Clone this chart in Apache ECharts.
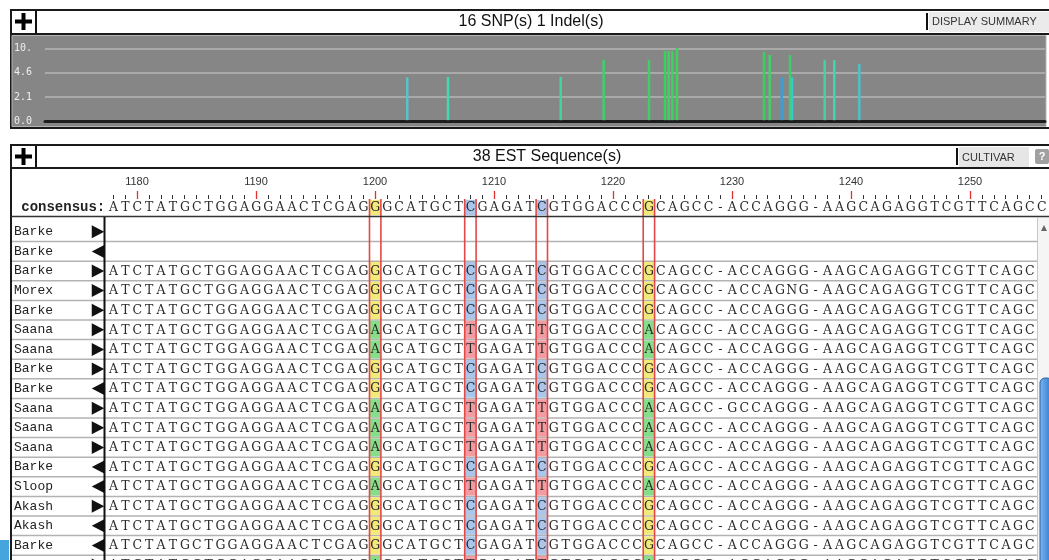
<!DOCTYPE html>
<html><head><meta charset="utf-8">
<script src="https://cdn.jsdelivr.net/npm/echarts@6/dist/echarts.min.js"></script>
<style>html,body{margin:0;padding:0;background:#fff}#c{width:1049px;height:560px}</style>
</head><body><div id="c"></div>
<script>
// ---------------- data ----------------
const snpTitle = '16 SNP(s) 1 Indel(s)';
const estTitle = '38 EST Sequence(s)';
const yTickLabels = ['0.0', '2.1', '4.6', '10.'];
// SNP overview: x position (overview axis units) and bar height (axis tick units)
const snpX = [362.3, 403, 515.7, 558.7, 604, 620, 623.7, 627.3, 632, 719, 724.7, 736.7, 745, 747, 779.7, 789.3, 814.3];
const snpHeights = [1.81, 1.83, 1.83, 2.53, 2.53, 2.89, 2.89, 2.89, 3.02, 2.86, 2.73, 1.81, 2.73, 1.81, 2.52, 2.52, 2.36];
const barColors = ['#5cc3c9', '#3fd9b5', '#3fd79c', '#3fd06a', '#3fcf66', '#37d35a', '#3cd45e', '#3cd35e', '#3cd45a',
  '#3ccf60', '#45cf6c', '#3c9fd6', '#3fcd6a', '#3dc6d0', '#47cfa8', '#3fd6b0', '#4cc2c8'];

const startPos = 1178;
const consensus = 'ATCTATGCTGGAGGAACTCGAGGGCATGCTCGAGATCGTGGACCCGCAGCC-ACCAGGG-AAGCAGAGGTCGTTCAGCC';
const snpColumns = [1200, 1208, 1214, 1223];
const names = ['Barke', 'Barke', 'Barke', 'Morex', 'Barke', 'Saana', 'Saana', 'Barke', 'Barke', 'Saana',
  'Saana', 'Saana', 'Barke', 'Sloop', 'Akash', 'Akash', 'Barke', ''];
const strands = ['+', '-', '+', '+', '+', '+', '+', '+', '-', '+', '+', '+', '-', '-', '+', '-', '-', '+'];
const sequences = [
  '',
  '',
  'ATCTATGCTGGAGGAACTCGAGGGCATGCTCGAGATCGTGGACCCGCAGCC-ACCAGGG-AAGCAGAGGTCGTTCAGC',
  'ATCTATGCTGGAGGAACTCGAGGGCATGCTCGAGATCGTGGACCCGCAGCC-ACCAGNG-AAGCAGAGGTCGTTCAGC',
  'ATCTATGCTGGAGGAACTCGAGGGCATGCTCGAGATCGTGGACCCGCAGCC-ACCAGGG-AAGCAGAGGTCGTTCAGC',
  'ATCTATGCTGGAGGAACTCGAGAGCATGCTTGAGATTGTGGACCCACAGCC-ACCAGGG-AAGCAGAGGTCGTTCAGC',
  'ATCTATGCTGGAGGAACTCGAGAGCATGCTTGAGATTGTGGACCCACAGCC-ACCAGGG-AAGCAGAGGTCGTTCAGC',
  'ATCTATGCTGGAGGAACTCGAGGGCATGCTCGAGATCGTGGACCCGCAGCC-ACCAGGG-AAGCAGAGGTCGTTCAGC',
  'ATCTATGCTGGAGGAACTCGAGGGCATGCTCGAGATCGTGGACCCGCAGCC-ACCAGGG-AAGCAGAGGTCGTTCAGC',
  'ATCTATGCTGGAGGAACTCGAGAGCATGCTTGAGATTGTGGACCCACAGCC-GCCAGGG-AAGCAGAGGTCGTTCAGC',
  'ATCTATGCTGGAGGAACTCGAGAGCATGCTTGAGATTGTGGACCCACAGCC-ACCAGGG-AAGCAGAGGTCGTTCAGC',
  'ATCTATGCTGGAGGAACTCGAGAGCATGCTTGAGATTGTGGACCCACAGCC-ACCAGGG-AAGCAGAGGTCGTTCAGC',
  'ATCTATGCTGGAGGAACTCGAGGGCATGCTCGAGATCGTGGACCCGCAGCC-ACCAGGG-AAGCAGAGGTCGTTCAGC',
  'ATCTATGCTGGAGGAACTCGAGAGCATGCTTGAGATTGTGGACCCACAGCC-ACCAGGG-AAGCAGAGGTCGTTCAGC',
  'ATCTATGCTGGAGGAACTCGAGGGCATGCTCGAGATCGTGGACCCGCAGCC-ACCAGGG-AAGCAGAGGTCGTTCAGC',
  'ATCTATGCTGGAGGAACTCGAGGGCATGCTCGAGATCGTGGACCCGCAGCC-ACCAGGG-AAGCAGAGGTCGTTCAGC',
  'ATCTATGCTGGAGGAACTCGAGGGCATGCTCGAGATCGTGGACCCGCAGCC-ACCAGGG-AAGCAGAGGTCGTTCAGC',
  'ATCTATGCTGGAGGAACTCGAGAGCATGCTTGAGATTGTGGACCCACAGCC-ACCAGGG-AAGCAGAGGTCGTTCAGC'
];

// ---------------- styles ----------------
const baseFill = { G: '#f2e97a', A: '#86de8a', C: '#aac6ea', T: '#f29ca2' };
const baseFont = '12.5px "DejaVu Serif"';
const monoFont = '"Liberation Mono"';
const sansFont = '"Liberation Sans"';

const positions = consensus.split('').map((_, i) => String(startPos + i));
const rowCats = names.map((_, i) => String(i));
const isDecade = (idx) => (startPos + idx) % 10 === 0;

function drawBases(seq, r, api, children, cy, h) {
  for (let i = 0; i < seq.length; i++) {
    const p = api.coord([i, r]);
    const ch = seq[i];
    if (snpColumns.indexOf(startPos + i) >= 0 && baseFill[ch]) {
      children.push({ type: 'rect', shape: { x: p[0] - 5.3, y: cy - h / 2 + 0.8, width: 11, height: h - 1.6 },
        style: { fill: baseFill[ch] } });
    }
    children.push({ type: 'text', style: { text: ch, x: p[0] + 0.3, y: cy + 0.5, font: baseFont, fill: '#2a2a2a',
      align: 'center', verticalAlign: 'middle' } });
  }
}

const chart = echarts.init(document.getElementById('c'), null, { renderer: 'canvas' });

const graphic = [
  // panel 1
  { type: 'rect', z: -10, shape: { x: 11, y: 10, width: 1045, height: 118 }, style: { fill: '#fff', stroke: '#1a1a1a', lineWidth: 2 } },
  { type: 'rect', z: -9, shape: { x: 12, y: 35.5, width: 1034, height: 91 }, style: { fill: '#868686', stroke: '#b4b4b4', lineWidth: 1 } },
  { type: 'line', z: -8, shape: { x1: 11, y1: 34, x2: 1049, y2: 34 }, style: { stroke: '#1a1a1a', lineWidth: 2 } },
  { type: 'rect', shape: { x: 15, y: 19.5, width: 17, height: 4 }, style: { fill: '#000' } },
  { type: 'rect', shape: { x: 21.5, y: 13, width: 4, height: 17 }, style: { fill: '#000' } },
  { type: 'line', shape: { x1: 36, y1: 11, x2: 36, y2: 33 }, style: { stroke: '#111', lineWidth: 2 } },
  { type: 'text', style: { x: 531, y: 21.5, text: snpTitle, font: '16px ' + sansFont, fill: '#111', align: 'center', verticalAlign: 'middle' } },
  { type: 'rect', shape: { x: 926, y: 13, width: 2, height: 17 }, style: { fill: '#111' } },
  { type: 'rect', shape: { x: 929, y: 12, width: 121, height: 20 }, style: { fill: '#ebebeb' } },
  { type: 'text', style: { x: 932, y: 22, text: 'DISPLAY SUMMARY', font: '11px ' + sansFont, fill: '#333', align: 'left', verticalAlign: 'middle' } },
  // panel 2
  { type: 'rect', z: -10, shape: { x: 11, y: 145, width: 1045, height: 430 }, style: { fill: '#fff', stroke: '#1a1a1a', lineWidth: 2 } },
  { type: 'line', z: -8, shape: { x1: 11, y1: 168, x2: 1049, y2: 168 }, style: { stroke: '#1a1a1a', lineWidth: 2 } },
  { type: 'rect', shape: { x: 15, y: 154.5, width: 17, height: 4 }, style: { fill: '#000' } },
  { type: 'rect', shape: { x: 21.5, y: 148, width: 4, height: 17 }, style: { fill: '#000' } },
  { type: 'line', shape: { x1: 36, y1: 146, x2: 36, y2: 167 }, style: { stroke: '#111', lineWidth: 2 } },
  { type: 'text', style: { x: 547, y: 157, text: estTitle, font: '16px ' + sansFont, fill: '#111', align: 'center', verticalAlign: 'middle' } },
  { type: 'rect', shape: { x: 956, y: 148, width: 2, height: 17 }, style: { fill: '#111' } },
  { type: 'rect', shape: { x: 959, y: 147, width: 70, height: 20 }, style: { fill: '#e6e6e6' } },
  { type: 'text', style: { x: 962, y: 157.5, text: 'CULTIVAR', font: '11px ' + sansFont, fill: '#333', align: 'left', verticalAlign: 'middle' } },
  { type: 'rect', shape: { x: 1035, y: 149, width: 14, height: 15, r: 2 }, style: { fill: '#a0a0a0' } },
  { type: 'text', style: { x: 1042, y: 157, text: '?', font: 'bold 11px ' + sansFont, fill: '#fff', align: 'center', verticalAlign: 'middle' } },
  { type: 'line', z: 40, shape: { x1: 11, y1: 216.5, x2: 1049, y2: 216.5 }, style: { stroke: '#333', lineWidth: 1.5 } },
  { type: 'line', z: 40, shape: { x1: 104.5, y1: 217, x2: 104.5, y2: 560 }, style: { stroke: '#111', lineWidth: 2 } },
  // scrollbar
  { type: 'rect', z: 50, shape: { x: 1037.5, y: 217.5, width: 13, height: 345 }, style: { fill: '#f5f5f5', stroke: '#c8c8c8', lineWidth: 1 } },
  { type: 'polygon', z: 51, shape: { points: [[1041, 231], [1047, 231], [1044, 225]] }, style: { fill: '#666' } },
  { type: 'rect', z: 51, shape: { x: 1040, y: 378, width: 12, height: 190, r: 5 },
    style: { fill: new echarts.graphic.LinearGradient(0, 0, 1, 0, [{ offset: 0, color: '#79b8f0' }, { offset: 1, color: '#2e74c8' }]), stroke: '#2a5fa8', lineWidth: 1 } },
  // slide decoration
  { type: 'rect', z: 60, shape: { x: 0, y: 540, width: 9, height: 20 }, style: { fill: '#45a5dc' } }
];

const option = {
  animation: false,
  backgroundColor: '#ffffff',
  graphic: graphic,
  grid: [
    { left: 45, right: 4, top: 48.3, height: 73.4, containLabel: false, outerBoundsMode: 'none' },
    { left: 107.25, width: 940.1, top: 199, height: 17, containLabel: false, outerBoundsMode: 'none' },
    { left: 107.25, width: 940.1, top: 222, height: 352.8, containLabel: false, outerBoundsMode: 'none' }
  ],
  xAxis: [
    { gridIndex: 0, type: 'value', min: 0, max: 1000,
      axisLine: { show: true, onZero: false, lineStyle: { color: '#1e1e1e', width: 3 } },
      axisTick: { show: false }, axisLabel: { show: false }, splitLine: { show: false } },
    { gridIndex: 1, type: 'category', data: positions, position: 'top',
      axisLine: { show: false },
      axisTick: { show: true, alignWithLabel: true, interval: 0, length: 4, lineStyle: { color: '#333', width: 1 } },
      axisLabel: { show: false }, splitLine: { show: false } },
    { gridIndex: 1, type: 'category', data: positions, position: 'top',
      axisLine: { show: false },
      axisTick: { show: true, alignWithLabel: true, interval: (idx) => isDecade(idx), length: 8, lineStyle: { color: '#e03030', width: 1.3 } },
      axisLabel: { show: true, interval: (idx) => isDecade(idx), margin: 12, fontSize: 11, color: '#333', fontFamily: sansFont },
      splitLine: { show: false } },
    { gridIndex: 2, type: 'category', data: positions, show: false }
  ],
  yAxis: [
    { gridIndex: 0, type: 'value', min: 0, max: 3, interval: 1,
      axisLine: { show: false }, axisTick: { show: false },
      axisLabel: { formatter: (v) => (yTickLabels[v] !== undefined ? yTickLabels[v] : ''), align: 'left', margin: 31,
        color: '#eeeeee', fontSize: 10, fontFamily: '"DejaVu Sans Mono"' },
      splitLine: { show: true, lineStyle: { color: '#a9a9a9', width: 2 } } },
    { gridIndex: 1, type: 'category', data: ['consensus:'],
      axisLine: { show: false }, axisTick: { show: false },
      axisLabel: { align: 'right', margin: 2, fontSize: 14, fontWeight: 'bold', fontFamily: monoFont, color: '#222' },
      splitLine: { show: false } },
    { gridIndex: 2, type: 'category', data: rowCats, inverse: true,
      axisLine: { show: false }, axisTick: { show: false },
      axisLabel: { formatter: (v, idx) => names[idx], align: 'left', margin: 93.25, fontSize: 13, fontFamily: monoFont, color: '#222' },
      splitLine: { show: false } }
  ],
  series: [
    { type: 'custom', name: 'SNP density', xAxisIndex: 0, yAxisIndex: 0, z: 5,
      data: snpX.map((x, i) => [x, snpHeights[i]]),
      renderItem: (params, api) => {
        const p0 = api.coord([api.value(0), 0]);
        const p1 = api.coord([api.value(0), api.value(1)]);
        return { type: 'rect', shape: { x: p0[0] - 1.25, y: p1[1], width: 2.5, height: p0[1] - p1[1] - 1.5 },
          style: { fill: barColors[params.dataIndex] } };
      } },
    { type: 'custom', name: 'consensus', xAxisIndex: 1, yAxisIndex: 1, z: 5,
      data: [[0, 0]],
      renderItem: (params, api) => {
        const c = api.coord([0, 0]);
        const h = api.size([1, 1])[1];
        const children = [];
        drawBases(consensus, 0, api, children, c[1], h);
        return { type: 'group', children };
      } },
    { type: 'custom', name: 'reads', xAxisIndex: 3, yAxisIndex: 2, z: 5,
      data: sequences.map((_, r) => [0, r]),
      renderItem: (params, api) => {
        const r = api.value(1);
        const cs = params.coordSys;
        const c = api.coord([0, r]);
        const h = api.size([1, 1])[1];
        const cy = c[1];
        const children = [];
        children.push({ type: 'line', shape: { x1: 12, y1: cy + h / 2, x2: 1037, y2: cy + h / 2 },
          style: { stroke: '#b2b2b2', lineWidth: 1.5 } });
        const ax = cs.x;
        const pts = strands[r] === '+'
          ? [[ax - 15.5, cy - 6.5], [ax - 3, cy], [ax - 15.5, cy + 6.5]]
          : [[ax - 3, cy - 6.5], [ax - 15.5, cy], [ax - 3, cy + 6.5]];
        children.push({ type: 'polygon', shape: { points: pts }, style: { fill: '#111' } });
        drawBases(sequences[r], r, api, children, cy, h);
        return { type: 'group', children };
      } },
    { type: 'custom', name: 'snp columns', xAxisIndex: 3, yAxisIndex: 2, z: 8,
      data: snpColumns.map((p) => [p - startPos, 0]),
      renderItem: (params, api) => {
        const x = api.coord([api.value(0), 0])[0];
        return { type: 'group', children: [
          { type: 'line', shape: { x1: x - 5.5, y1: 199, x2: x - 5.5, y2: 560 }, style: { stroke: '#e34848', lineWidth: 1.6 } },
          { type: 'line', shape: { x1: x + 5.9, y1: 199, x2: x + 5.9, y2: 560 }, style: { stroke: '#e34848', lineWidth: 1.6 } }
        ] };
      } }
  ]
};
chart.setOption(option);
</script>
</body></html>
